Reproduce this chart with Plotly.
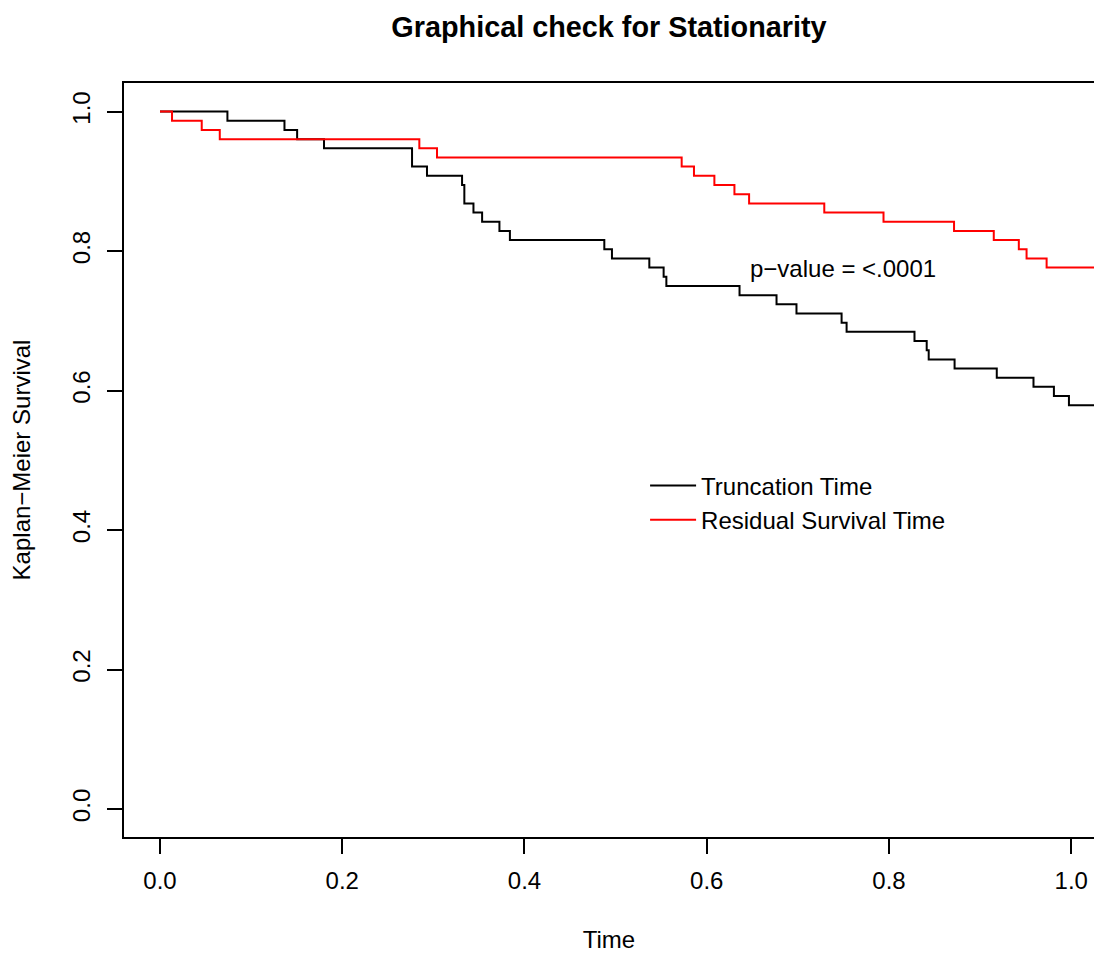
import plotly.graph_objects as go

# Kaplan-Meier step curves
trunc_time = [0.0, 0.074, 0.1366, 0.1505, 0.180, 0.2766, 0.293, 0.3315, 0.334, 0.344,
              0.3535, 0.3725, 0.384, 0.4876, 0.496, 0.537, 0.5527, 0.5557, 0.636, 0.6766,
              0.6985, 0.748, 0.7535, 0.828, 0.8414, 0.8436, 0.872, 0.9183, 0.9586, 0.981,
              0.9975, 1.03]
trunc_surv = [1.0, 0.9868, 0.9737, 0.9605, 0.9474, 0.9211, 0.9079, 0.8947, 0.8684, 0.8553,
              0.8421, 0.8289, 0.8158, 0.8026, 0.7895, 0.7763, 0.7632, 0.75, 0.7368, 0.7237,
              0.7105, 0.6974, 0.6842, 0.6711, 0.6579, 0.6447, 0.6316, 0.6184, 0.6053, 0.5921,
              0.5789, 0.5789]

resid_time = [0.0, 0.0132, 0.0458, 0.0656, 0.2846, 0.304, 0.5725, 0.586, 0.6084, 0.6304,
              0.6465, 0.729, 0.794, 0.8714, 0.915, 0.9425, 0.951, 0.973, 1.03]
resid_surv = [1.0, 0.9868, 0.9737, 0.9605, 0.9474, 0.9342, 0.9211, 0.9079, 0.8947, 0.8816,
              0.8684, 0.8553, 0.8421, 0.8289, 0.8158, 0.8026, 0.7895, 0.7763, 0.7763]

tick_vals = [0.0, 0.2, 0.4, 0.6, 0.8, 1.0]
series_names = ["Truncation Time", "Residual Survival Time"]
p_text = "p\u2212value = <.0001"

FONT = "Liberation Sans, Arial, Helvetica, sans-serif"

fig = go.Figure()
fig.add_trace(go.Scatter(x=trunc_time, y=trunc_surv, mode="lines", line_shape="hv",
                         line=dict(color="black", width=2), name=series_names[0]))
fig.add_trace(go.Scatter(x=resid_time, y=resid_surv, mode="lines", line_shape="hv",
                         line=dict(color="#ff0000", width=2), name=series_names[1]))

fig.add_annotation(x=0.75, y=0.775, xref="x", yref="y", text=p_text, showarrow=False,
                   font=dict(family=FONT, size=24, color="black"),
                   xanchor="center", yanchor="middle")

fig.update_layout(
    width=1094, height=956,
    margin=dict(l=124, r=0, t=83, b=119),
    paper_bgcolor="white", plot_bgcolor="white",
    font=dict(family=FONT, size=24, color="black"),
    title=dict(text="<b>Graphical check for Stationarity</b>", x=(124 + 1094) / 2 / 1094,
               xanchor="center", y=1 - 27 / 956, yanchor="middle",
               font=dict(family=FONT, size=28.8, color="black")),
    legend=dict(x=0.5372, y=0.443, xref="paper", yref="paper", xanchor="left", yanchor="middle",
                bgcolor="rgba(0,0,0,0)", font=dict(family=FONT, size=24, color="black"),
                tracegroupgap=0, itemwidth=46),
    showlegend=True,
)
fig.update_xaxes(range=[-0.0395, 1.025], tickvals=tick_vals, tickformat=".1f",
                 showgrid=False, zeroline=False, showline=True, mirror=True,
                 linecolor="black", linewidth=2, ticks="outside", ticklen=15,
                 tickwidth=2, tickcolor="black", ticklabelstandoff=6,
                 tickfont=dict(family=FONT, size=24, color="black"),
                 title=dict(text="Time", standoff=38, font=dict(family=FONT, size=24)),
                 automargin=False)
fig.update_yaxes(range=[-0.0401, 1.041], tickvals=tick_vals, tickformat=".1f",
                 showgrid=False, zeroline=False, showline=True, mirror=True,
                 linecolor="black", linewidth=2, ticks="outside", ticklen=15,
                 tickwidth=2, tickcolor="black", tickangle=-90, ticklabelstandoff=7,
                 tickfont=dict(family=FONT, size=24, color="black"),
                 title=dict(text="Kaplan\u2212Meier Survival", standoff=31,
                            font=dict(family=FONT, size=24)),
                 automargin=False)

fig.write_html("out.html")
